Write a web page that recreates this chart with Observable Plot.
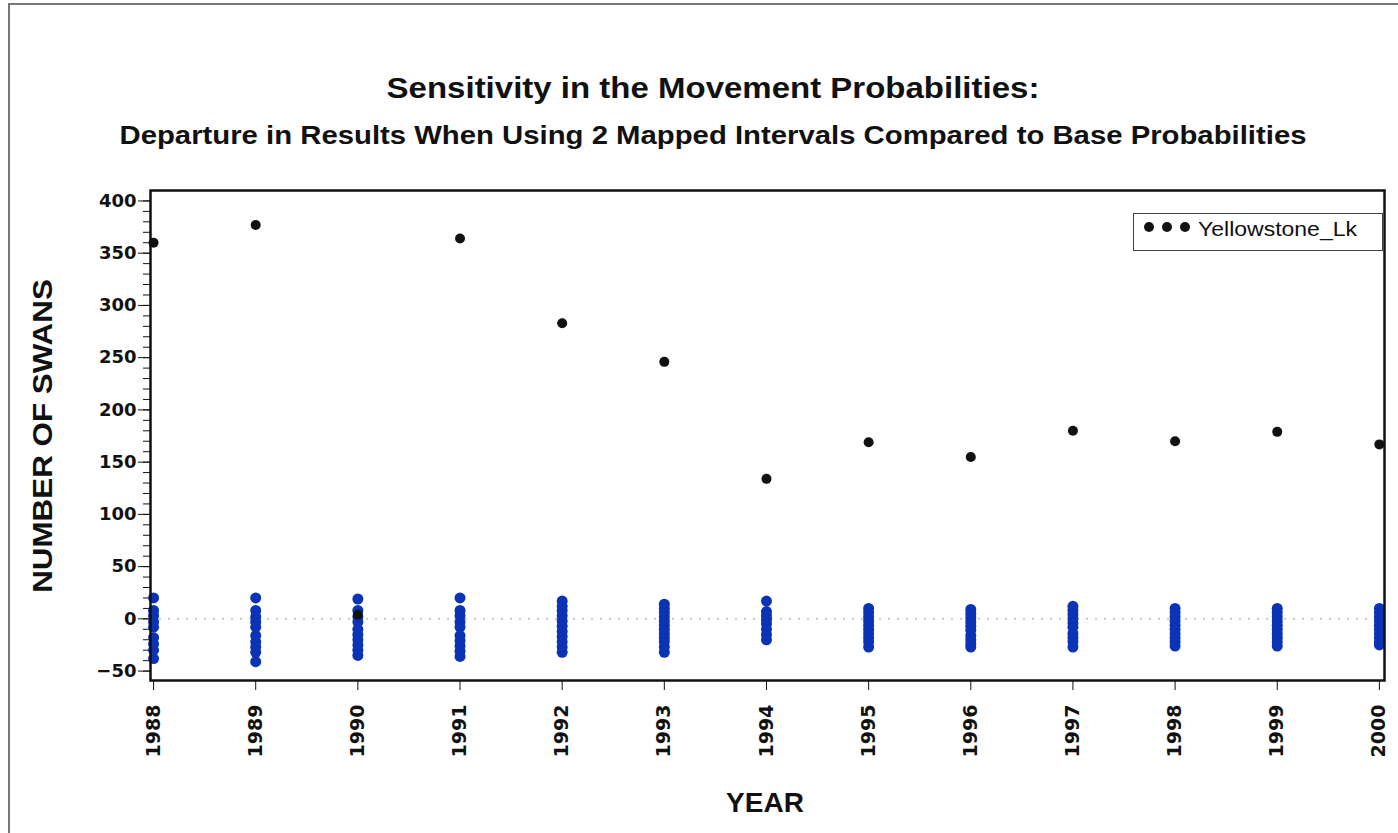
<!DOCTYPE html>
<html>
<head>
<meta charset="utf-8">
<script src="https://cdn.jsdelivr.net/npm/d3@7"></script>
<script src="https://cdn.jsdelivr.net/npm/@observablehq/plot@0.6"></script>
<style>
  html, body { margin: 0; padding: 0; background: #fff; }
  #wrap { position: relative; width: 1398px; height: 833px; overflow: hidden; font-family: "Liberation Sans", Arial, sans-serif; }
  #border { position: absolute; left: 8px; top: 3px; width: 1400px; height: 840px; border: 2px solid #777; box-sizing: border-box; }
  .t { position: absolute; left: 14px; width: 1398px; text-align: center; font-weight: bold; color: #111; white-space: nowrap; line-height: 1; }
  #title { top: 73px; font-size: 30px; transform: scaleX(1.10); }
  #subtitle { top: 122px; font-size: 26px; transform: scaleX(1.127); }
  #ylab { position: absolute; left: 43px; top: 436px; line-height: 1; transform: translate(-50%, -50%) rotate(-90deg) scaleX(1.12); font-weight: bold; font-size: 28px; white-space: nowrap; color: #111; }
  #xlab { position: absolute; left: 765px; top: 789px; line-height: 1; transform: translateX(-50%); font-weight: bold; font-size: 28px; color: #111; }
  #legend { position: absolute; left: 1133px; top: 213px; width: 250px; height: 38px; border: 1px solid #444; box-sizing: border-box; background: #fff; }
  .ld { position: absolute; top: 8px; width: 10px; height: 10px; border-radius: 50%; background: #111; }
  #ltext { position: absolute; left: 64px; top: 5px; font-size: 20px; line-height: 1; transform: scaleX(1.15); transform-origin: left center; color: #111; white-space: nowrap; }
  #chart { position: absolute; left: 0; top: 0; }
</style>
</head>
<body>
<div id="wrap">
  <div id="border"></div>
  <div id="chart"></div>
  <div class="t" id="title">Sensitivity in the Movement Probabilities:</div>
  <div class="t" id="subtitle">Departure in Results When Using 2 Mapped Intervals Compared to Base Probabilities</div>
  <div id="ylab">NUMBER OF SWANS</div>
  <div id="xlab">YEAR</div>
  <div id="legend">
    <span class="ld" style="left:10px"></span><span class="ld" style="left:28px"></span><span class="ld" style="left:46px"></span>
    <span id="ltext">Yellowstone_Lk</span>
  </div>
</div>
<script>
const years = [1988, 1989, 1990, 1991, 1992, 1993, 1994, 1995, 1996, 1997, 1998, 1999, 2000];
const yellowstoneLk = [360, 377, 4, 364, 283, 246, 134, 169, 155, 180, 170, 179, 167];
const otherLakes = [
  [20, 8, 3, -3, -8, -18, -24, -30, -38],
  [20, 8, 2, -3, -8, -16, -22, -27, -32, -41],
  [19, 8, 2, -3, -10, -15, -20, -25, -30, -35],
  [20, 8, 3, -3, -8, -16, -21, -26, -31, -36],
  [17, 12, 8, 3, -2, -7, -12, -17, -22, -27, -32],
  [14, 10, 6, 2, -2, -6, -10, -14, -18, -22, -27, -32],
  [17, 7, 3, -1, -5, -10, -15, -20],
  [10, 6, 2, -2, -6, -10, -14, -18, -22, -27],
  [9, 5, 1, -3, -7, -11, -16, -20, -24, -27],
  [12, 8, 4, 0, -4, -8, -14, -18, -22, -27],
  [10, 6, 2, -2, -6, -10, -14, -18, -22, -26],
  [10, 6, 2, -2, -6, -10, -14, -18, -22, -26],
  [10, 6, 2, -2, -6, -10, -14, -18, -22, -25]
];
const yMajorTicks = [-50, 0, 50, 100, 150, 200, 250, 300, 350, 400];
const yMinorTicks = d3.range(-50, 401, 10);

const yellow = years.map((y, i) => ({year: y, value: yellowstoneLk[i]}));
const others = years.flatMap((y, i) => otherLakes[i].map(v => ({year: y, value: v})));

const chart = Plot.plot({
  width: 1398,
  height: 833,
  marginTop: 190,
  marginBottom: 153,
  marginLeft: 150,
  marginRight: 14,
  style: {fontFamily: "'DejaVu Sans', sans-serif", fontWeight: "bold", background: "transparent", color: "#111"},
  x: {domain: [1987.97, 2000.05]},
  y: {domain: [-59, 410]},
  marks: [
    Plot.ruleY([0], {stroke: "#999", strokeDasharray: "2,7", strokeWidth: 1}),
    Plot.axisY(yMinorTicks, {tickSize: 7, tickFormat: () => "", label: null, stroke: "#111"}),
    Plot.axisY(yMajorTicks, {tickSize: 12, tickPadding: 2, fontSize: 18, stroke: "#111", label: null, tickFormat: d => d < 0 ? "\u2212" + Math.abs(d) : String(d)}),
    Plot.axisX(years, {tickSize: 10, tickPadding: 14, tickRotate: -90, fontSize: 19, label: null, tickFormat: d => String(d), stroke: "#111"}),
    Plot.dot(others, {x: "year", y: "value", r: 5.5, fill: "#0b33b5", stroke: "none"}),
    Plot.dot(yellow, {x: "year", y: "value", r: 5, fill: "#111", stroke: "none"}),
    Plot.frame({stroke: "#111", strokeWidth: 2.5})
  ]
});
document.getElementById("chart").appendChild(chart);
</script>
</body>
</html>
